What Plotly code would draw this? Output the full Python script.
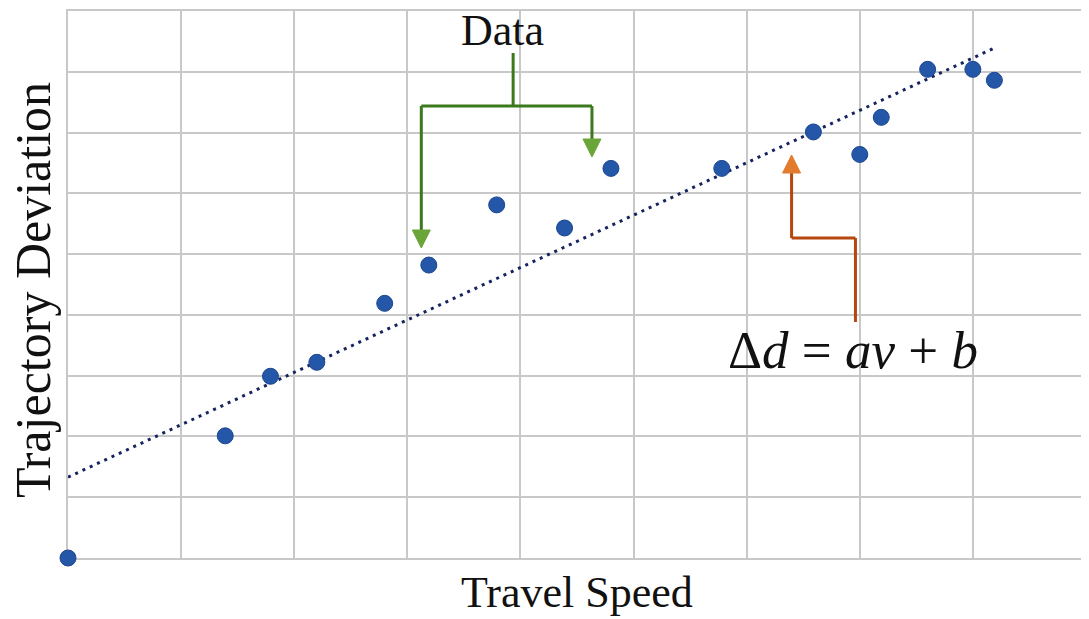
import numpy as np
import plotly.graph_objects as go

# Data (grid units)
speed = [0.0, 1.39, 1.79, 2.20, 2.80, 3.19, 3.79, 4.39, 4.80, 5.78, 6.59, 7.00, 7.19, 7.60, 8.00, 8.19]
deviation = [0.0, 2.01, 2.99, 3.22, 4.19, 4.82, 5.81, 5.43, 6.41, 6.41, 7.01, 6.64, 7.25, 8.04, 8.04, 7.86]

# Trend line extent
trend_x = [0.0, 8.2]
trend_y = [1.33, 8.40]

x_range = [0, 9]
y_range = [0, 9]

# The page body has an 8px margin, so the figure is offset by 8px
OFF = 8
W, H = 1089 - OFF, 619 - OFF
L, T, PW, PH = 68 - OFF, 11 - OFF, 1020, 547

fig = go.Figure()

fig.add_trace(go.Scatter(
    x=trend_x, y=trend_y, mode="lines",
    line=dict(color="#16235e", width=3, dash="3px,5px"),
    hoverinfo="skip", showlegend=False,
))
fig.add_trace(go.Scatter(
    x=speed, y=deviation, mode="markers",
    marker=dict(size=16, color="#2457a8", line=dict(color="#1b4690", width=1)),
    cliponaxis=False, showlegend=False,
))

GRID = "#c8c8c8"
axis_common = dict(
    showgrid=True, gridcolor=GRID, gridwidth=2, dtick=1,
    showticklabels=False, ticks="", zeroline=False,
    showline=True, linecolor=GRID, linewidth=2, mirror=True,
    layer="below traces",
)
fig.update_xaxes(range=x_range, **axis_common)
fig.update_yaxes(range=y_range, **axis_common)

# screen px (reference picture) -> data helpers for decorations
def dx(px):
    return (px - 68) / (PW / 9)

def dy(py):
    return (558 - py) / (PH / 9)

G_DARK = "#3b7a1c"
G_LIGHT = "#6aa53a"
O_DARK = "#b5470f"
O_LIGHT = "#e27b2e"

shapes = []
def seg(x0, y0, x1, y1, color):
    shapes.append(dict(type="line", xref="x", yref="y",
                       x0=dx(x0), y0=dy(y0), x1=dx(x1), y1=dy(y1),
                       line=dict(color=color, width=3), layer="above"))

def head(tx, ty, direction, fill, edge):
    w, h = 9, 18
    if direction == "down":
        pts = [(tx, ty), (tx - w, ty - h), (tx + w, ty - h)]
    else:
        pts = [(tx, ty), (tx - w, ty + h), (tx + w, ty + h)]
    path = "M " + " L ".join(f"{dx(a)},{dy(b)}" for a, b in pts) + " Z"
    shapes.append(dict(type="path", xref="x", yref="y", path=path,
                       fillcolor=fill, line=dict(color=fill, width=1), layer="above"))

# green "Data" bracket
seg(514, 53, 514, 106, G_DARK)
seg(422, 106, 593, 106, G_DARK)
seg(422, 106, 422, 235, G_DARK)
seg(593, 106, 593, 145, G_DARK)
head(422, 248, "down", G_LIGHT, G_DARK)
head(593, 157, "down", G_LIGHT, G_DARK)

# orange arrow
seg(857, 322, 857, 238, O_DARK)
seg(857, 238, 793, 238, O_DARK)
seg(793, 238, 793, 168, O_DARK)
head(793, 155, "up", O_LIGHT, O_DARK)

SERIF = "Liberation Serif, Times New Roman, serif"
annotations = [
    dict(text="Data", x=dx(503), y=dy(30), xref="x", yref="y",
         showarrow=False, font=dict(family=SERIF, size=44, color="#111")),
    dict(text="Δ<i>d</i> = <i>av</i> + <i>b</i>", x=dx(855), y=dy(350),
         xref="x", yref="y", showarrow=False,
         font=dict(family=SERIF, size=53, color="#111")),
    dict(text="Travel Speed", x=0.5, y=(558 - 592) / PH, xref="paper", yref="paper",
         showarrow=False, yanchor="middle",
         font=dict(family=SERIF, size=44, color="#111")),
    dict(text="Trajectory Deviation", x=(33 - 68) / PW, y=(558 - 290) / PH,
         xref="paper", yref="paper", textangle=-90, showarrow=False,
         xanchor="center", yanchor="middle",
         font=dict(family=SERIF, size=50, color="#111")),
]

fig.update_layout(
    width=W, height=H,
    margin=dict(l=L, r=W - L - PW, t=T, b=H - T - PH),
    plot_bgcolor="white", paper_bgcolor="white",
    shapes=shapes, annotations=annotations,
)

fig.write_html("out.html")
